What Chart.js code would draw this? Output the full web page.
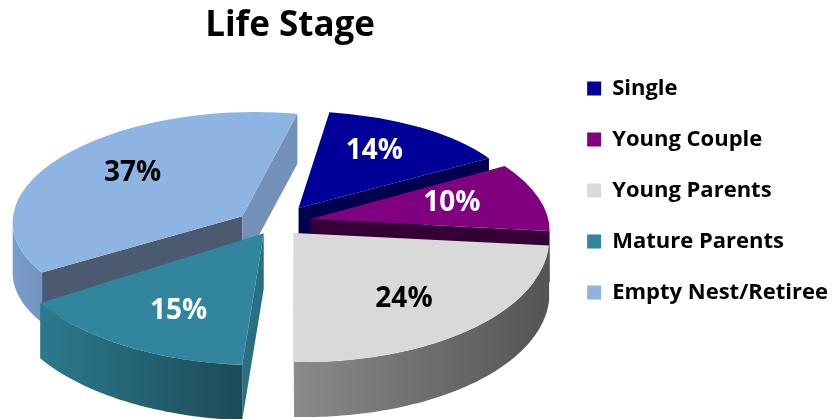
<!DOCTYPE html>
<html>
<head>
<meta charset="utf-8">
<script src="https://cdn.jsdelivr.net/npm/chart.js@4"></script>
<style>
  html, body { margin: 0; padding: 0; background: #fff; }
</style>
</head>
<body>
<canvas id="lifeChart" width="832" height="419"></canvas>
<script>
const stageLabels = ["Single", "Young Couple", "Young Parents", "Mature Parents", "Empty Nest/Retiree"];
const stageShares = [14, 10, 24, 15, 37];
const topColors = ["#000099", "#800080", "#D9D9D9", "#31859C", "#8EB4E3"];
// colours of the 3d walls: outer rim gradient (left -> right), start cut face, end cut face
const wallColors = [["#00007a", "#00004d"], ["#5c005c", "#3a003a"], ["#8a8a8a", "#545454"], ["#2b7a8e", "#1d4a57"], ["#7b9dcb", "#7494c2"]];
const startCutColors = ["#00004f", "#34003a", "#6e6e6e", "#2a7084", "#4b5a70"];
const endCutColors = ["#00004f", "#340035", "#6e6e6e", "#235d6c", "#7391b9"];
const pctColors = ["#ffffff", "#ffffff", "#000000", "#ffffff", "#000000"];

// solve 3x3 linear system (Cramer)
function solve3(m, r) {
  const det = a => a[0][0] * (a[1][1] * a[2][2] - a[1][2] * a[2][1])
                 - a[0][1] * (a[1][0] * a[2][2] - a[1][2] * a[2][0])
                 + a[0][2] * (a[1][0] * a[2][1] - a[1][1] * a[2][0]);
  const d = det(m);
  return [0, 1, 2].map(k => det(m.map((row, i) => row.map((v, j) => (j === k ? r[i] : v)))) / d);
}

const pie3d = {
  id: "pie3d",
  beforeDatasetsDraw(chart, args, opts) {
    const ctx = chart.ctx;
    const arcs = chart.getDatasetMeta(0).data;
    if (!arcs.length) return;
    const ox = arcs[0].x, oy = arcs[0].y, R = arcs[0].outerRadius;

    const mid = arc => (arc.startAngle + arc.endAngle) / 2;
    // position on the unit disc, slice pulled out along its middle angle
    const unit = (arc, a, fx, fy = fx) => {
      const m = mid(arc);
      return [Math.cos(m) * opts.explode + Math.cos(a) * fx, Math.sin(m) * opts.explode + Math.sin(a) * fy];
    };
    // perspective view of the tilted disc
    const persp = (u, v) => {
      const w = 1 / (1 - opts.persp * v);
      return [opts.cx + opts.rx * u * w, opts.cy + opts.ry * v * w];
    };

    // best affine fit of the perspective over one slice, so the library can draw the slice itself
    const fitAffine = arc => {
      const pts = [unit(arc, mid(arc), 0)];
      const a0 = arc.startAngle, a1 = arc.endAngle;
      for (let s = 0; s <= 24; s++) pts.push(unit(arc, a0 + (a1 - a0) * s / 24, 1));
      for (let s = 1; s < 6; s++) {
        pts.push(unit(arc, a0, s / 6));
        pts.push(unit(arc, a1, s / 6));
      }
      const m = [[0, 0, 0], [0, 0, 0], [0, 0, 0]], rx = [0, 0, 0], ry = [0, 0, 0];
      pts.forEach(p => {
        const q = persp(p[0], p[1]);
        const row = [p[0], p[1], 1];
        for (let i = 0; i < 3; i++) {
          for (let j = 0; j < 3; j++) m[i][j] += row[i] * row[j];
          rx[i] += row[i] * q[0];
          ry[i] += row[i] * q[1];
        }
      });
      const X = solve3(m, rx), Y = solve3(m, ry);
      const c = unit(arc, mid(arc), 0.5);
      return { X, Y, depth: opts.depth / (1 - opts.persp * c[1]) };
    };
    const apply = (A, p) => [A.X[0] * p[0] + A.X[1] * p[1] + A.X[2], A.Y[0] * p[0] + A.Y[1] * p[1] + A.Y[2]];

    const cutFace = (arc, A, a, color) => {
      const p1 = apply(A, unit(arc, a, 0)), p2 = apply(A, unit(arc, a, 1));
      ctx.beginPath();
      ctx.moveTo(p1[0], p1[1]);
      ctx.lineTo(p2[0], p2[1]);
      ctx.lineTo(p2[0], p2[1] + A.depth);
      ctx.lineTo(p1[0], p1[1] + A.depth);
      ctx.closePath();
      ctx.fillStyle = color;
      ctx.fill();
    };
    const faceVisible = (A, a, inward) => {
      const dx = A.X[0] * Math.cos(a) + A.X[1] * Math.sin(a);
      const dy = A.Y[0] * Math.cos(a) + A.Y[1] * Math.sin(a);
      const ix = A.X[0] * inward[0] + A.X[1] * inward[1];
      const iy = A.Y[0] * inward[0] + A.Y[1] * inward[1];
      return dx * (dx * iy - dy * ix) < 0;
    };

    const outerWall = (arc, A, colors) => {
      const steps = 90, runs = [];
      let run = null;
      for (let s = 0; s <= steps; s++) {
        const t = arc.startAngle + (arc.endAngle - arc.startAngle) * s / steps;
        const dxdt = -A.X[0] * Math.sin(t) + A.X[1] * Math.cos(t);
        if (dxdt < 0) {
          if (!run) { run = []; runs.push(run); }
          run.push(apply(A, unit(arc, t, 1)));
        } else {
          run = null;
        }
      }
      runs.forEach(top => {
        if (top.length < 2) return;
        ctx.beginPath();
        ctx.moveTo(top[0][0], top[0][1]);
        top.forEach(p => ctx.lineTo(p[0], p[1]));
        for (let k = top.length - 1; k >= 0; k--) ctx.lineTo(top[k][0], top[k][1] + A.depth);
        ctx.closePath();
        const xs = top.map(p => p[0]);
        const g = ctx.createLinearGradient(Math.min(...xs), 0, Math.max(...xs), 0);
        g.addColorStop(0, colors[0]);
        g.addColorStop(1, colors[1]);
        ctx.fillStyle = g;
        ctx.fill();
      });
    };

    // back slices first
    const order = arcs.map((a, i) => i).sort((i, j) => Math.sin(mid(arcs[i])) - Math.sin(mid(arcs[j])));
    order.forEach(i => {
      const arc = arcs[i];
      const A = fitAffine(arc);
      const s0 = arc.startAngle, s1 = arc.endAngle;
      if (faceVisible(A, s0, [-Math.sin(s0), Math.cos(s0)])) cutFace(arc, A, s0, startCutColors[i]);
      if (faceVisible(A, s1, [Math.sin(s1), -Math.cos(s1)])) cutFace(arc, A, s1, endCutColors[i]);
      outerWall(arc, A, wallColors[i]);

      const m = mid(arc);
      ctx.save();
      ctx.transform(A.X[0] / R, A.Y[0] / R, A.X[1] / R, A.Y[1] / R,
                    A.X[2] - (A.X[0] * ox + A.X[1] * oy) / R,
                    A.Y[2] - (A.Y[0] * ox + A.Y[1] * oy) / R);
      ctx.translate(Math.cos(m) * opts.explode * R, Math.sin(m) * opts.explode * R);
      arc.draw(ctx);
      ctx.restore();
    });

    // percentage labels
    ctx.save();
    ctx.font = opts.labelFont;
    ctx.textAlign = "center";
    ctx.textBaseline = "middle";
    const total = stageShares.reduce((s, v) => s + v, 0);
    arcs.forEach((arc, i) => {
      const u = unit(arc, mid(arc), opts.labelRx, opts.labelRy);
      const p = persp(u[0], u[1]);
      ctx.fillStyle = pctColors[i];
      ctx.fillText(Math.round(stageShares[i] / total * 100) + "%", p[0], p[1]);
    });
    ctx.restore();
    return false;
  }
};

new Chart(document.getElementById("lifeChart"), {
  type: "pie",
  data: {
    labels: stageLabels,
    datasets: [{
      data: stageShares,
      backgroundColor: topColors,
      borderWidth: 0
    }]
  },
  options: {
    responsive: false,
    animation: false,
    rotation: 10,
    layout: { padding: { left: 22, right: -6, bottom: 38 } },
    plugins: {
      title: {
        display: true,
        text: "Life Stage",
        fullSize: false,
        color: "#000",
        font: { family: "Open Sans", weight: "bold", size: 35 },
        padding: { top: 5, bottom: 10 }
      },
      legend: {
        position: "right",
        align: "center",
        labels: {
          boxWidth: 14,
          boxHeight: 14,
          padding: 29,
          color: "#000",
          font: { family: "Open Sans", weight: "bold", size: 22 }
        }
      },
      tooltip: { enabled: false },
      pie3d: {
        cx: 277, cy: 222, rx: 240, ry: 112, persp: 0.112, depth: 52, explode: 0.138,
        labelRx: 0.62, labelRy: 0.7,
        labelFont: "bold 28px 'Open Sans'"
      }
    }
  },
  plugins: [pie3d]
});
</script>
</body>
</html>
